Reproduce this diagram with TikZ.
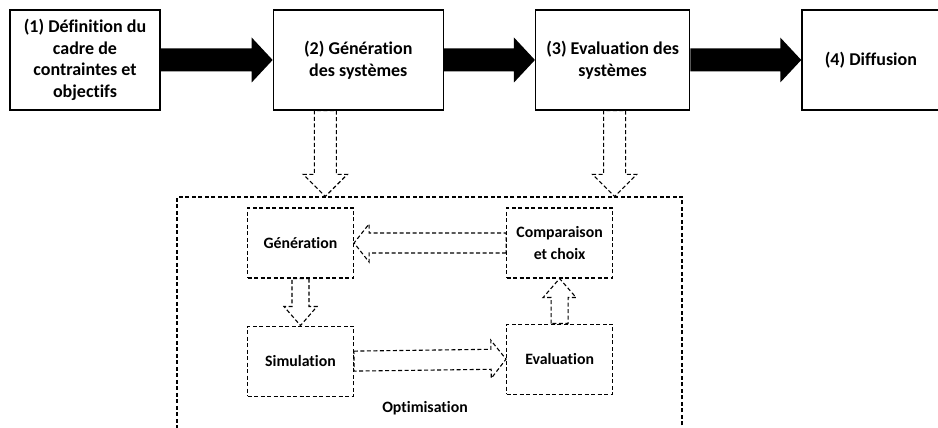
\documentclass[tikz,border=0pt]{standalone}
\usepackage{fontspec}
\setmainfont[Ligatures=NoCommon]{Carlito}
\usetikzlibrary{calc, positioning}

% outline of a wide arrow: shaft half width, head half width, head length
\tikzset{
  fatarrow/.style n args={3}{to path={
    ($(\tikztostart)!#1!90:(\tikztotarget)$)
    -- ($($(\tikztotarget)!#3!(\tikztostart)$)!#1!90:(\tikztotarget)$)
    -- ($($(\tikztotarget)!#3!(\tikztostart)$)!#2!90:(\tikztotarget)$)
    -- (\tikztotarget)
    -- ($($(\tikztotarget)!#3!(\tikztostart)$)!#2!-90:(\tikztotarget)$)
    -- ($($(\tikztotarget)!#3!(\tikztostart)$)!#1!-90:(\tikztotarget)$)
    -- ($(\tikztostart)!#1!-90:(\tikztotarget)$)
    -- cycle}},
  stage/.style={draw, rectangle, line width=1.3pt, minimum height=100pt,
    font=\bfseries\fontsize{18}{21.5}\selectfont},
  subbox/.style={draw, rectangle, line width=1.1pt, dash pattern=on 4pt off 2.5pt,
    minimum width=106pt, minimum height=70pt, font=\bfseries\fontsize{15.8}{22}\selectfont},
  bigarrow/.style={fatarrow={11.5pt}{22.5pt}{21pt}, fill=black},
  hollowarrow/.style={line width=1.1pt, dash pattern=on 4pt off 2.5pt}
}

\begin{document}
\begin{tikzpicture}[x=1pt, y=1pt, node distance=50pt, align=center]
        \useasboundingbox (0,0) rectangle (938,428);

        \node (def) [stage, minimum width=150pt] at (85,368) {(1) Définition du \\ cadre de \\ contraintes et \\ objectifs};
        \node (gen2) [stage, minimum width=170pt, right=112pt of def] {(2) Génération \\ des systèmes};
        \node (eval3) [stage, minimum width=154pt, right=91pt of gen2] {(3) Evaluation des \\ systèmes};
        \node (diff) [stage, minimum width=138pt, right=111pt of eval3] {(4) Diffusion};

        \fill [bigarrow] (def.east) to (gen2.west);
        \fill [bigarrow] (gen2.east) to (eval3.west);
        \fill [bigarrow] (eval3.east) to (diff.west);

        \node (opt) [draw, rectangle, line width=1.1pt, dash pattern=on 4pt off 2.5pt,
            minimum width=505pt, minimum height=250pt] at (429.5,106) {};
        \node (optlabel) [font=\bfseries\fontsize{15.8}{22}\selectfont] at (425,20) {Optimisation};

        \node (gen) [subbox] at (300.5,185) {Génération};
        \node (comp) [subbox, right=152pt of gen] {Comparaison \\ et choix};
        \node (sim) [subbox, below=47pt of gen] {Simulation};
        \node (eval) [subbox, below=45pt of comp] {Evaluation};

        \coordinate (d2) at ([xshift=-33pt]gen2.south);
        \coordinate (d2t) at (d2 |- opt.north);
        \coordinate (d3) at ([xshift=2pt]eval3.south);
        \coordinate (d3t) at (d3 |- opt.north);

        \draw [hollowarrow, fatarrow={11pt}{22pt}{22pt}] (d2) to (d2t);
        \draw [hollowarrow, fatarrow={11pt}{22pt}{22pt}] (d3) to (d3t);

        \draw [hollowarrow, fatarrow={10pt}{19pt}{15pt}] (comp.west) to (gen.east);
        \draw [hollowarrow, fatarrow={8.5pt}{16.5pt}{19pt}] (gen.south) to (sim.north);
        \draw [hollowarrow, fatarrow={10pt}{19pt}{15pt}] (sim.east) to (eval.west);
        \draw [hollowarrow, fatarrow={8.5pt}{16.5pt}{19pt}] (eval.north) to (comp.south);
    \end{tikzpicture}
\end{document}
